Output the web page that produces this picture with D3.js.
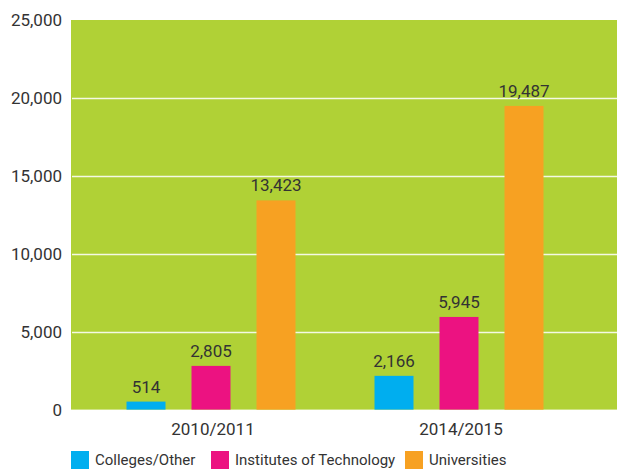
<!DOCTYPE html>
<html>
<head>
<meta charset="utf-8" />
<title>Enrolments</title>
<script src="https://d3js.org/d3.v7.min.js"></script>
<style>
  html, body { margin: 0; padding: 0; background: #fff; }
  svg { display: block; font-family: Roboto, "Liberation Sans", sans-serif; }
</style>
</head>
<body>
<svg width="617" height="469"></svg>
<script>
// data
var years = ["2010/2011", "2014/2015"];
var series = ["Colleges/Other", "Institutes of Technology", "Universities"];
var colleges = [514, 2166];
var institutes = [2805, 5945];
var universities = [13423, 19487];
var yTicks = [0, 5000, 10000, 15000, 20000, 25000];

var colors = ["#00aeef", "#ec1281", "#f7a122"];
var values = [colleges, institutes, universities];

var svg = d3.select("svg"),
    width = +svg.attr("width");

var plot = { left: 71, right: 617, top: 20, bottom: 409.6 };

var y = d3.scaleLinear().domain([0, 25000]).range([plot.bottom, plot.top]);

var x0 = d3.scaleBand().domain(years).range([87, 583]).padding(0);
var x1 = d3.scaleBand().domain(series).range([0, 169]).paddingInner(0.4);

// background
svg.append("rect")
    .attr("x", plot.left).attr("y", plot.top)
    .attr("width", plot.right - plot.left).attr("height", plot.bottom - plot.top)
    .attr("fill", "#b0d136");

// gridlines
svg.selectAll(".grid")
    .data(yTicks.filter(function (d) { return d > 0 && d < 25000; }))
    .enter().append("line")
    .attr("x1", plot.left + 1).attr("x2", plot.right)
    .attr("y1", function (d) { return Math.round(y(d)) + 0.5; })
    .attr("y2", function (d) { return Math.round(y(d)) + 0.5; })
    .attr("stroke", "#f4f9e4").attr("stroke-width", 1.5);

// y labels
svg.selectAll(".ylab")
    .data(yTicks)
    .enter().append("text")
    .attr("x", 62)
    .attr("y", function (d) { return y(d); })
    .attr("dy", "0.36em")
    .attr("text-anchor", "end")
    .attr("fill", "#333")
    .style("font-size", "17px")
    .text(function (d) { return d3.format(",")(d); });

// bars
var groups = svg.selectAll(".group")
    .data(years)
    .enter().append("g")
    .attr("transform", function (d) { return "translate(" + (x0(d) + x0.bandwidth() / 2 - 84.5) + ",0)"; });

groups.selectAll("rect")
    .data(function (d, i) {
        return series.map(function (s, j) { return { s: s, v: values[j][i], c: colors[j] }; });
    })
    .enter().append("rect")
    .attr("x", function (d) { return x1(d.s); })
    .attr("width", x1.bandwidth())
    .attr("y", function (d) { return y(d.v); })
    .attr("height", function (d) { return plot.bottom - y(d.v); })
    .attr("fill", function (d) { return d.c; });

groups.selectAll(".vlab")
    .data(function (d, i) {
        return series.map(function (s, j) { return { s: s, v: values[j][i] }; });
    })
    .enter().append("text")
    .attr("x", function (d) { return x1(d.s) + x1.bandwidth() / 2; })
    .attr("y", function (d) { return y(d.v) - 9; })
    .attr("text-anchor", "middle")
    .attr("fill", "#333")
    .style("font-size", "17px")
    .text(function (d) { return d3.format(",")(d.v); });

// category labels
svg.selectAll(".xlab")
    .data(years)
    .enter().append("text")
    .attr("x", function (d) { return x0(d) + x0.bandwidth() / 2 + 2; })
    .attr("y", 435)
    .attr("text-anchor", "middle")
    .attr("fill", "#333")
    .style("font-size", "17px")
    .text(function (d) { return d; });

// legend
var legendX = [71, 211, 405];
var legend = svg.selectAll(".legend")
    .data(series)
    .enter().append("g")
    .attr("transform", function (d, i) { return "translate(" + legendX[i] + ",451)"; });

legend.append("rect")
    .attr("width", 18).attr("height", 18)
    .attr("fill", function (d, i) { return colors[i]; });

legend.append("text")
    .attr("x", 24).attr("y", 14)
    .attr("fill", "#333")
    .style("font-size", "15px")
    .text(function (d) { return d; });
</script>
</body>
</html>
